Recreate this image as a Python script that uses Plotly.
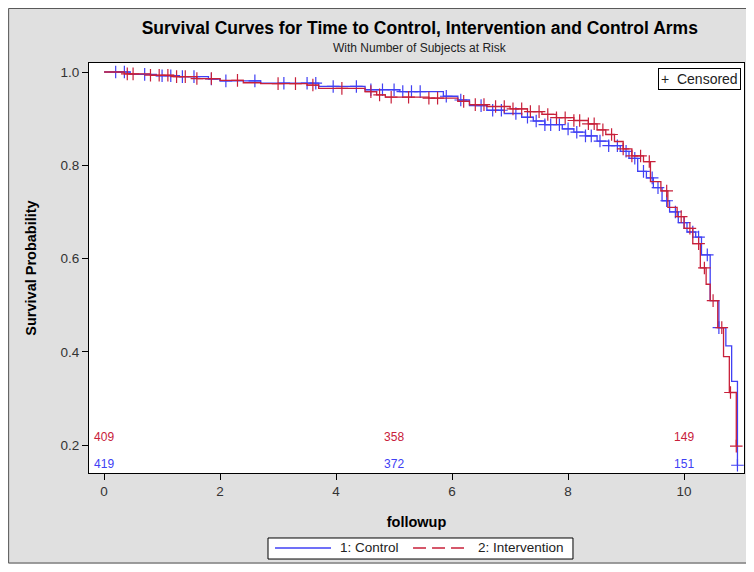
import numpy as np
import plotly.graph_objects as go

# ---- data ----
ctrl_t = [0, 0.45, 0.9, 1.3, 1.8, 2.0, 2.7, 3.7, 4.5, 5.1, 5.85, 6.1, 6.3, 6.6, 6.9, 7.2, 7.4, 7.6,
          7.9, 8.1, 8.3, 8.5, 8.7, 8.9, 9.05, 9.2, 9.35, 9.47, 9.62, 9.75, 9.9, 10.05, 10.2, 10.3,
          10.45, 10.6, 10.72, 10.82, 10.92]
ctrl_s = [1.0, 0.995, 0.992, 0.99, 0.985, 0.981, 0.976, 0.969, 0.962, 0.958, 0.948, 0.94, 0.928,
          0.918, 0.911, 0.903, 0.895, 0.887, 0.878, 0.871, 0.863, 0.852, 0.842, 0.83, 0.815, 0.787,
          0.773, 0.752, 0.724, 0.7, 0.677, 0.657, 0.646, 0.608, 0.51, 0.452, 0.413, 0.337, 0.157]
ctrl_cens = [0.2, 0.35, 0.7, 1.0, 1.15, 1.35, 1.55, 1.85, 2.1, 2.6, 3.1, 3.5, 3.65, 3.95, 4.35, 4.6,
             4.8, 5.0, 5.15, 5.3, 5.45, 5.9, 6.15, 6.5, 6.7, 6.85, 7.1, 7.3, 7.45, 7.6, 7.7, 7.85,
             8.0, 8.15, 8.3, 8.4, 8.55, 8.7, 8.85, 9.0, 9.15, 9.3, 9.45, 9.55, 9.7, 9.85, 10.0,
             10.15, 10.25, 10.4, 10.6, 10.92]

int_t = [0, 0.35, 0.8, 1.2, 1.6, 2.0, 2.4, 2.7, 3.5, 3.7, 4.5, 4.7, 4.85, 5.6, 6.1, 6.3, 6.6, 7.0,
         7.3, 7.55, 7.8, 8.1, 8.35, 8.5, 8.65, 8.8, 8.95, 9.1, 9.3, 9.42, 9.6, 9.72, 9.88, 10.0,
         10.15, 10.28, 10.38, 10.45, 10.58, 10.68, 10.78, 10.9]
int_s = [1.0, 0.996, 0.993, 0.99, 0.986, 0.982, 0.977, 0.975, 0.972, 0.965, 0.958, 0.951, 0.946,
         0.944, 0.937, 0.93, 0.926, 0.921, 0.915, 0.909, 0.902, 0.896, 0.889, 0.876, 0.866, 0.851,
         0.835, 0.82, 0.808, 0.765, 0.745, 0.71, 0.69, 0.665, 0.632, 0.58, 0.545, 0.51, 0.452,
         0.39, 0.313, 0.198]
int_cens = [0.4, 0.5, 0.8, 0.95, 1.1, 1.25, 1.4, 1.6, 1.85, 2.3, 3.0, 3.3, 3.6, 4.1, 4.6, 4.75,
            4.95, 5.25, 5.6, 5.75, 6.2, 6.4, 6.55, 6.75, 6.9, 7.05, 7.2, 7.35, 7.5, 7.65, 7.8, 7.95,
            8.1, 8.2, 8.35, 8.45, 8.6, 8.75, 8.95, 9.1, 9.25, 9.4, 9.7, 9.95, 10.1, 10.25, 10.35,
            10.5, 10.65, 10.8, 10.9]

risk_times = [0, 5, 10]
ctrl_risk = [419, 372, 151]
int_risk = [409, 358, 149]
ctrl_risk_y = 0.158
int_risk_y = 0.215

series_names = ["1: Control", "2: Intervention"]

BLUE = "#4040F4"
RED = "#C8203A"
FONT = "Liberation Sans, Arial, sans-serif"


def step_val(times, surv, q):
    idx = np.searchsorted(np.array(times), np.array(q), side="right") - 1
    return np.array(surv)[idx]


fig = go.Figure()

for t, s, cens, col in [(ctrl_t, ctrl_s, ctrl_cens, BLUE), (int_t, int_s, int_cens, RED)]:
    fig.add_trace(go.Scatter(x=t, y=s, mode="lines", line=dict(color=col, width=1.3, shape="hv"),
                             showlegend=False, hoverinfo="skip"))
    fig.add_trace(go.Scatter(x=cens, y=step_val(t, s, cens), mode="markers",
                             marker=dict(symbol="cross-thin", size=9, line=dict(color=col, width=1.2)),
                             showlegend=False, hoverinfo="skip"))

fig.add_trace(go.Scatter(x=risk_times, y=[int_risk_y] * 3, mode="text", text=[str(v) for v in int_risk],
                         textfont=dict(color=RED, size=12, family=FONT), showlegend=False))
fig.add_trace(go.Scatter(x=risk_times, y=[ctrl_risk_y] * 3, mode="text", text=[str(v) for v in ctrl_risk],
                         textfont=dict(color=BLUE, size=12, family=FONT), showlegend=False))

# manual legend (paper coordinates)
LY = -0.1829
shapes = [
    dict(type="rect", xref="paper", yref="paper", x0=-0.1227, x1=1.0137, y0=-0.2195, y1=1.133,
         line=dict(color="#555555", width=1), layer="below"),
    dict(type="rect", xref="paper", yref="paper", x0=0.2733, x1=0.7389, y0=-0.2098, y1=-0.1585,
         fillcolor="white", line=dict(color="black", width=1)),
    dict(type="line", xref="paper", yref="paper", x0=0.284, x1=0.3695, y0=LY, y1=LY,
         line=dict(color=BLUE, width=1.3)),
    dict(type="line", xref="paper", yref="paper", x0=0.4947, x1=0.574, y0=LY, y1=LY,
         line=dict(color=RED, width=1.3, dash="13px,6px")),
]

annotations = [
    dict(text="With Number of Subjects at Risk", xref="paper", yref="paper", x=0.5053, y=1.037,
         xanchor="center", yanchor="middle", showarrow=False, font=dict(size=12, color="#222222")),
    dict(text="+  Censored", xref="paper", yref="paper", x=0.9954, y=0.9878, xanchor="right",
         yanchor="top", showarrow=False, bgcolor="white", bordercolor="black", borderwidth=1,
         borderpad=2, font=dict(size=14, color="#222222")),
    dict(text=series_names[0], xref="paper", yref="paper", x=0.3794, y=LY, xanchor="left",
         yanchor="middle", showarrow=False, font=dict(size=13.5, color="#222222")),
    dict(text=series_names[1], xref="paper", yref="paper", x=0.5908, y=LY, xanchor="left",
         yanchor="middle", showarrow=False, font=dict(size=13.5, color="#222222")),
]

fig.update_layout(
    width=746, height=556,
    margin=dict(l=81, r=10, t=55, b=91),
    paper_bgcolor="#E0E0E0", plot_bgcolor="white",
    font=dict(family=FONT, size=13.5, color="#333333"),
    showlegend=False,
    title=dict(text="<b>Survival Curves for Time to Control, Intervention and Control Arms</b>",
               x=0.552, xanchor="center", y=0.964, yanchor="middle",
               font=dict(size=17.5, color="black", family=FONT)),
    xaxis=dict(range=[-0.26, 11.033], tickvals=[0, 2, 4, 6, 8, 10], ticks="outside", ticklen=6,
               tickcolor="black", showline=True, linecolor="black", linewidth=1, mirror=True,
               showgrid=False, zeroline=False,
               title=dict(text="<b>followup</b>", font=dict(size=14.5, color="black"), standoff=18)),
    yaxis=dict(range=[0.1404, 1.0193], tickvals=[0.2, 0.4, 0.6, 0.8, 1.0], tickformat=".1f",
               ticks="outside", ticklen=6, tickcolor="black", showline=True, linecolor="black",
               linewidth=1, mirror=True, showgrid=False, zeroline=False,
               title=dict(text="<b>Survival Probability</b>", font=dict(size=14.5, color="black"),
                          standoff=20)),
    annotations=annotations,
    shapes=shapes,
)

fig.write_html("out.html")
